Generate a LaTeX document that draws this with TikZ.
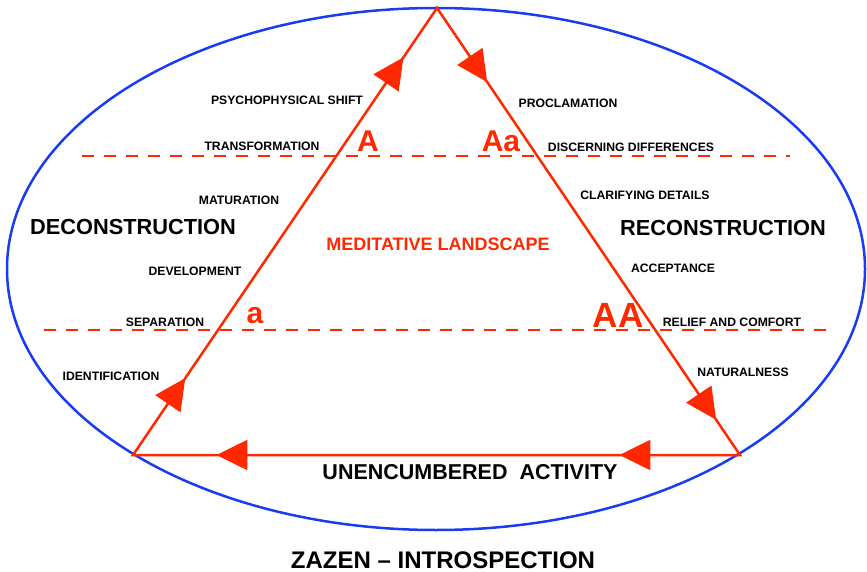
\documentclass[tikz,border=0pt]{standalone}
\usepackage{fontspec}
\setmainfont{Liberation Sans}
\usetikzlibrary{arrows.meta,decorations.markings}

\definecolor{zenred}{RGB}{255,40,0}
\definecolor{zenblue}{RGB}{25,60,240}

\begin{document}
\begin{tikzpicture}[x=1pt,y=-1pt,
    small/.style={font=\fontsize{12.2}{14}\selectfont\bfseries,inner sep=0pt},
    big/.style={font=\fontsize{21.8}{24}\selectfont\bfseries,inner sep=0pt},
    stage/.style={text=zenred,font=\fontsize{30}{32}\selectfont\bfseries,inner sep=0pt},
    level/.style={zenred,line width=2pt,dash pattern=on 12pt off 10pt},
    bigtip/.style={postaction={decorate},decoration={markings,
      mark=at position 93pt with {\arrow{Triangle[length=31pt,width=30pt]}},
      mark=at position 481pt with {\arrow{Triangle[length=31pt,width=30pt]}},
      mark=at position 630pt with {\arrow{Triangle[length=31pt,width=30pt]}},
      mark=at position 1038pt with {\arrow{Triangle[length=31pt,width=30pt]}},
      mark=at position 1201pt with {\arrow{Triangle[length=31pt,width=30pt]}},
      mark=at position 1604pt with {\arrow{Triangle[length=31pt,width=30pt]}}}}]

    \useasboundingbox (0,0) rectangle (867,572);

    \draw[zenblue,line width=2.5pt]
      (436,269) ellipse [x radius=429pt, y radius=261pt];

    \draw[level] (82,156) -- (790,156);
    \draw[level] (44,330) -- (827,330);

    \coordinate (top) at (437,8);
    \coordinate (bl) at (133,455);
    \coordinate (br) at (740,455);

    \draw[zenred,line width=2.5pt,line join=miter,bigtip]
      (bl) -- (top) -- (br) -- cycle;

    \node[stage] (A) at (368,141) {A};
    \node[stage] (Aa) at (501,141) {Aa};
    \node[stage] (a) at (255,316) {a};
    \node[stage,font=\fontsize{35}{38}\selectfont\bfseries] (AA) at (618,315) {AA};

    \node[small] (shift) at (287,100) {PSYCHOPHYSICAL SHIFT};
    \node[small] (transf) at (262,146) {TRANSFORMATION};
    \node[small] (matur) at (239,200) {MATURATION};
    \node[small] (develop) at (195,271) {DEVELOPMENT};
    \node[small] (separ) at (165,322) {SEPARATION};
    \node[small] (ident) at (111,376) {IDENTIFICATION};

    \node[small] (procl) at (568,103) {PROCLAMATION};
    \node[small] (discern) at (631,147) {DISCERNING DIFFERENCES};
    \node[small] (clarify) at (645,195) {CLARIFYING DETAILS};
    \node[small] (accept) at (673,268) {ACCEPTANCE};
    \node[small] (relief) at (732,322) {RELIEF AND COMFORT};
    \node[small] (natural) at (743,372) {NATURALNESS};

    \node[big] (decon) at (133,227) {DECONSTRUCTION};
    \node[big] (recon) at (723,228) {RECONSTRUCTION};
    \node[big,text=zenred,font=\fontsize{18}{20}\selectfont\bfseries]
      (land) at (438,244) {MEDITATIVE LANDSCAPE};
    \node[big,font=\fontsize{21.5}{24}\selectfont\bfseries]
      (activity) at (470,472) {UNENCUMBERED~~ACTIVITY};
    \node[big,font=\fontsize{24}{26}\selectfont\bfseries]
      (zazen) at (443,560) {ZAZEN -- INTROSPECTION};
  \end{tikzpicture}
\end{document}
